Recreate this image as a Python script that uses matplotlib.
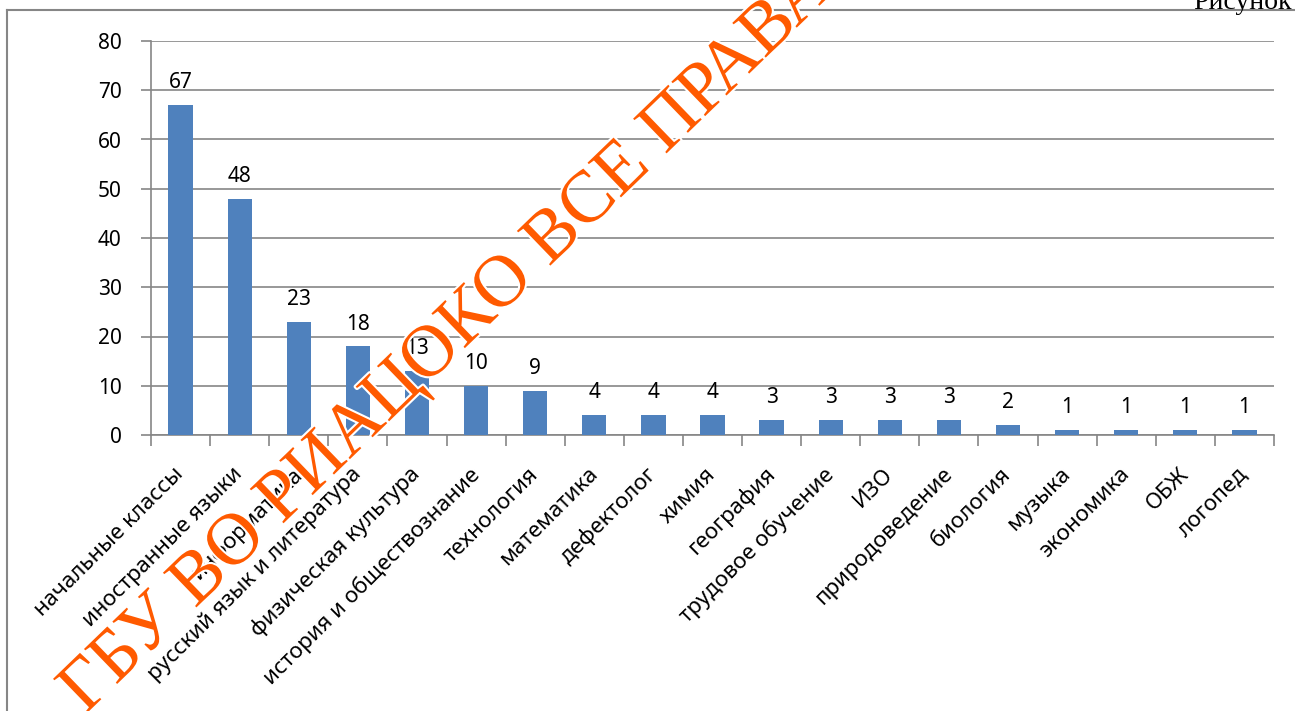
import matplotlib
matplotlib.use("Agg")
import matplotlib.pyplot as plt
import matplotlib.patheffects as pe
from matplotlib.lines import Line2D
import numpy as np

categories = ["начальные классы", "иностранные языки", "информатика",
              "русский язык и литература", "физическая культура",
              "история и обществознание", "технология", "математика",
              "дефектолог", "химия", "география", "трудовое обучение", "ИЗО",
              "природоведение", "биология", "музыка", "экономика", "ОБЖ", "логопед"]
values = [67, 48, 23, 18, 13, 10, 9, 4, 4, 4, 3, 3, 3, 3, 2, 1, 1, 1, 1]
y_ticks = [0, 10, 20, 30, 40, 50, 60, 70, 80]

plt.rcParams['font.family'] = ['Noto Sans', 'DejaVu Sans']
W, H = 1295, 711
fig = plt.figure(figsize=(W / 100, H / 100), dpi=100)
ax = fig.add_axes([151 / W, 1 - 435 / H, (1274 - 151) / W, (435 - 41) / H])

x = np.arange(len(categories))
ax.bar(x, values, width=0.41, color="#4f81bd", zorder=3)
for xi, v in zip(x, values):
    ax.text(xi, v + 2.4, str(v), ha="center", va="bottom", fontsize=15, zorder=4)

ax.set_xlim(-0.5, len(categories) - 0.5)
ax.set_ylim(0, 80)
ax.set_yticks(y_ticks)
ax.tick_params(axis="y", labelsize=15, length=7, color="#868686", width=1.2, pad=14)
ax.yaxis.grid(True, color="#868686", linewidth=1.2, zorder=0)

ax.set_xticks(x)
ax.set_xticklabels(categories, rotation=45, ha="right", va="center",
                   rotation_mode="anchor", fontsize=16)
ax.tick_params(axis="x", length=0, pad=26)
ax.set_xticks(np.arange(-0.5, len(categories)), minor=True)
ax.tick_params(axis="x", which="minor", length=8, color="#868686", width=1.2)

for s in ["top", "right"]:
    ax.spines[s].set_visible(False)
for s in ["left", "bottom"]:
    ax.spines[s].set_color("#868686")
    ax.spines[s].set_linewidth(1.2)

# chart frame (partly cropped)
fig.add_artist(Line2D([7 / W, 7 / W], [0, 1 - 10 / H], color="#868686", linewidth=1.5))
fig.add_artist(Line2D([7 / W, 1], [1 - 10 / H, 1 - 10 / H], color="#868686", linewidth=1.5))

fig.text(1292 / W, 1 - 9 / H, "Рисунок", ha="right", va="baseline",
         fontsize=20, family="Liberation Serif")

# watermark
fig.text(85 / W, 1 - 715 / H, "ГБУ ВО РИАЦОКО ВСЕ ПРАВА ЗАЩИЩЕНЫ",
         rotation=44, rotation_mode="anchor", ha="left", va="baseline",
         fontsize=53, color="#ff5a00", family="Liberation Serif",
         path_effects=[pe.withStroke(linewidth=3, foreground="white")], zorder=10)

fig.savefig("out.png", dpi=100)
